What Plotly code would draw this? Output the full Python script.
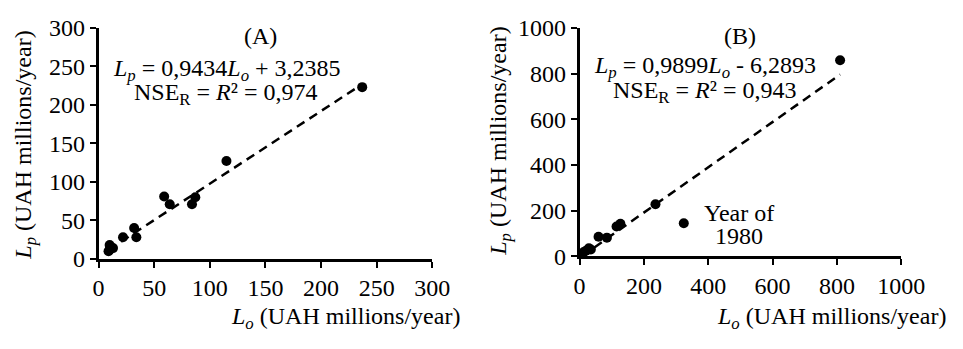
import plotly.graph_objects as go

# Panel A: observed vs predicted losses
lo_a = [10, 10, 13, 9, 22, 32, 34, 59, 64, 84, 87, 115, 237]
lp_a = [12, 18, 14, 10, 28, 40, 28, 81, 71, 71, 80, 127, 223]
slope_a, icpt_a = 0.9434, 3.2385

# Panel B: full record including the 1980 outlier
lo_b = [8, 12, 20, 29, 35, 59, 85, 115, 127, 236, 324, 810]
lp_b = [10, 18, 25, 36, 30, 86, 82, 131, 143, 228, 145, 858]
slope_b, icpt_b = 0.9899, -6.2893

# Axis ranges: labelled every `major`, small ticks every `minor`
ticks_a = dict(top=300, major=50, minor=10)
ticks_b = dict(top=1000, major=200, minor=50)

FONT = "Liberation Serif"
FS = 24
W, H = 963, 349
TICK_LEN = 6
LINE_W = 2.5

# plot areas in pixels: (left, right, top, bottom)
box_a = (95.5, 440, 16, 265.7)
box_b = (592, 924, 16, 263)

fig = go.Figure()

def fit_line(xs, m, b):
    x0, x1 = min(xs), max(xs)
    return [x0, x1], [m * x0 + b, m * x1 + b]

def add_tick_marks(spec, box, xa, ya):
    # small outside tick marks along both axes, every `minor` step
    vals = list(range(0, spec["top"] + 1, spec["minor"]))
    px_x = (box[1] - box[0]) / spec["top"]
    px_y = (box[3] - box[2]) / spec["top"]
    off = LINE_W + TICK_LEN / 2
    mk = dict(size=TICK_LEN, color="black", line=dict(color="black", width=2))
    fig.add_trace(go.Scatter(x=vals, y=[-off / px_y] * len(vals), mode="markers",
                             xaxis=xa, yaxis=ya, cliponaxis=False, hoverinfo="skip",
                             marker=dict(mk, symbol="line-ns")))
    fig.add_trace(go.Scatter(x=[-off / px_x] * len(vals), y=vals, mode="markers",
                             xaxis=xa, yaxis=ya, cliponaxis=False, hoverinfo="skip",
                             marker=dict(mk, symbol="line-ew")))

fx, fy = fit_line(lo_a, slope_a, icpt_a)
fig.add_trace(go.Scatter(x=fx, y=fy, mode="lines", xaxis="x", yaxis="y",
                         line=dict(color="black", width=2.5, dash="9px,6px")))
fig.add_trace(go.Scatter(x=lo_a, y=lp_a, mode="markers", xaxis="x", yaxis="y",
                         marker=dict(color="black", size=10)))
add_tick_marks(ticks_a, box_a, "x", "y")

fx, fy = fit_line(lo_b, slope_b, icpt_b)
fig.add_trace(go.Scatter(x=fx, y=fy, mode="lines", xaxis="x2", yaxis="y2",
                         line=dict(color="black", width=2.5, dash="9px,6px")))
fig.add_trace(go.Scatter(x=lo_b, y=lp_b, mode="markers", xaxis="x2", yaxis="y2",
                         marker=dict(color="black", size=10)))
add_tick_marks(ticks_b, box_b, "x2", "y2")

base = dict(showline=True, linecolor="black", linewidth=LINE_W,
            ticks="outside", ticklen=TICK_LEN, tickwidth=2, tickcolor="black",
            showgrid=False, zeroline=False)

def axis(domain, spec, anchor):
    return dict(base, domain=domain, range=[0, spec["top"]], anchor=anchor,
                tickmode="linear", tick0=0, dtick=spec["major"],
                tickfont=dict(family=FONT, size=FS))

fig.update_layout(
    template="simple_white",
    width=W, height=H, margin=dict(l=0, r=0, t=0, b=0),
    font=dict(family=FONT, size=FS, color="black"),
    plot_bgcolor="white", showlegend=False,
    xaxis=axis([box_a[0] / W, box_a[1] / W], ticks_a, "y"),
    yaxis=axis([1 - box_a[3] / H, 1 - box_a[2] / H], ticks_a, "x"),
    xaxis2=axis([box_b[0] / W, box_b[1] / W], ticks_b, "y2"),
    yaxis2=axis([1 - box_b[3] / H, 1 - box_b[2] / H], ticks_b, "x2"),
)

def txt(x, y, s, rot=0):
    fig.add_annotation(x=x / W, y=1 - y / H, xref="paper", yref="paper",
                       text=s, showarrow=False, textangle=rot,
                       xanchor="center", yanchor="middle", borderpad=0,
                       font=dict(family=FONT, size=FS, color="black"))

title_y = "<i>L<sub>p</sub></i> (UAH millions/year)"
title_x = "<i>L<sub>o</sub></i> (UAH millions/year)"

# Panel A labels
txt(263, 25, "(A)")
txt(228, 62, "<i>L<sub>p</sub></i> = 0,9434<i>L<sub>o</sub></i> + 3,2385")
txt(227, 88, "NSE<sub>R</sub> = <i>R</i>² = 0,974")
txt(20, 143, title_y, rot=-90)
txt(350, 330, title_x)

# Panel B labels
txt(758, 25, "(B)")
txt(721, 58, "<i>L<sub>p</sub></i> = 0,9899<i>L<sub>o</sub></i> - 6,2893")
txt(721, 85, "NSE<sub>R</sub> = <i>R</i>² = 0,943")
txt(757, 216, "Year of")
txt(757, 241, "1980")
txt(510, 139, title_y, rot=-90)
txt(852, 330, title_x)

fig.write_html("out.html")
